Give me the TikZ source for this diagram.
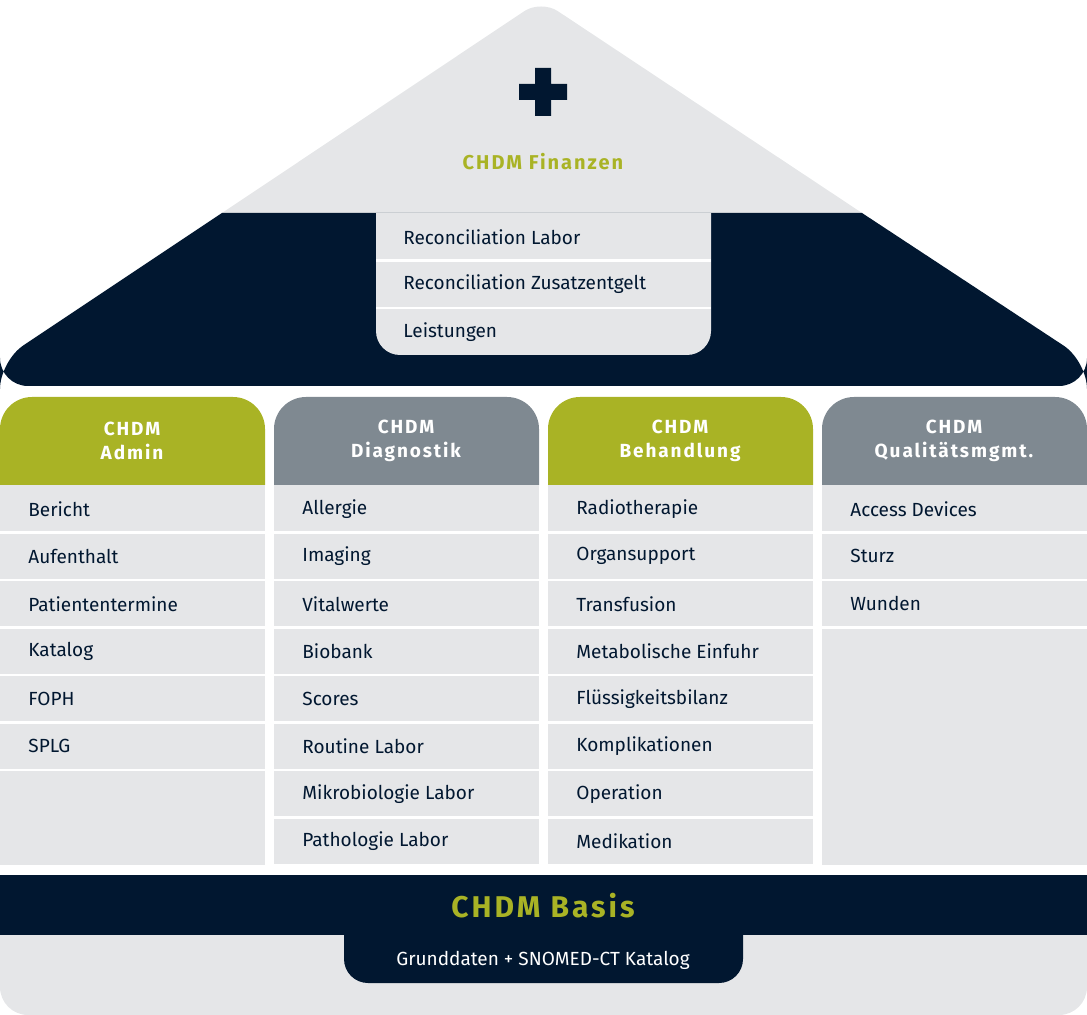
\documentclass[tikz,border=0pt]{standalone}
\usepackage{fontspec}
\setmainfont{Fira Sans}
\newfontfamily\headfont[LetterSpace=10]{Fira Sans}
\definecolor{chnavy}{HTML}{011730}
\definecolor{chgreen}{HTML}{A9B325}
\definecolor{chgray}{HTML}{7F8991}
\definecolor{chlight}{HTML}{E5E6E8}
\tikzset{
  item/.style={anchor=west,font=\fontsize{9.5}{11}\selectfont,text=chnavy,inner sep=0pt},
  head/.style={align=center,font=\headfont\bfseries\fontsize{9.5}{12}\selectfont,text=white},
  sep/.style={draw=white,line width=1.2pt}
}
\begin{document}
\begin{tikzpicture}[x=0.5pt,y=-0.5pt]
  \useasboundingbox (0,0) rectangle (1087,1015);
  % roof
  \fill[chlight] (222,213) [rounded corners=10]-- (541,0) [sharp corners]-- (862,213) -- cycle;
  \fill[chnavy] (222,213) [rounded corners=14]-- (0,361) -- (0,386) -- (1087,386) -- (1087,361) [sharp corners]-- (862,213) -- cycle;
  \fill[chnavy] (519,84) rectangle (567,100) (535,68) rectangle (551,116);
  \node[font=\headfont\bfseries\fontsize{10}{12}\selectfont,text=chgreen] (fin) at (543,162) {CHDM Finanzen};
  \fill[chlight] (376,213) [rounded corners=12]-- (376,355) -- (711,355) [sharp corners]-- (711,213) -- cycle;
  \foreach[count=\r,evaluate={213+47.5*\r-23.75} as \y] \t in {Reconciliation Labor,Reconciliation Zusatzentgelt,Leistungen} {
    \node[item] (fin\r) at (403,\y) {\t};
  }
  \draw[sep] (376,260.5) -- (711,260.5) (376,308) -- (711,308);

  % columns
  \foreach[count=\c] \cx/\col/\title/\items in {
      0/chgreen/{CHDM\\Admin}/{Bericht,Aufenthalt,Patiententermine,Katalog,FOPH,SPLG},
      274/chgray/{CHDM\\Diagnostik}/{Allergie,Imaging,Vitalwerte,Biobank,Scores,Routine Labor,Mikrobiologie Labor,Pathologie Labor},
      548/chgreen/{CHDM\\Behandlung}/{Radiotherapie,Organsupport,Transfusion,Metabolische Einfuhr,Flüssigkeitsbilanz,Komplikationen,Operation,Medikation},
      822/chgray/{CHDM\\Qualitätsmgmt.}/{Access Devices,Sturz,Wunden}} {
    \fill[\col] (\cx,485) [rounded corners=16]-- (\cx,397) -- (\cx+265,397) [sharp corners]-- (\cx+265,485) -- cycle;
    \node[head] (head\c) at (\cx+132,441) {\title};
    \fill[chlight] (\cx,485) rectangle (\cx+265,865);
    \foreach[count=\r,evaluate={485+47.5*\r} as \y] \t in \items {
      \node[item] (c\c-\r) at (\cx+28,\y-23.75) {\t};
      \draw[sep] (\cx,\y) -- (\cx+265,\y);
    }
  }

  % basis
  \fill[chnavy] (0,875) rectangle (1087,935);
  \fill[chlight] (0,935) [rounded corners=14]-- (0,1015) -- (1087,1015) [sharp corners]-- (1087,935) -- cycle;
  \node[font=\headfont\bfseries\fontsize{15}{18}\selectfont,text=chgreen] (basis) at (543,906) {CHDM Basis};
  \fill[chnavy] (344,935) [rounded corners=12]-- (344,983) -- (743,983) [sharp corners]-- (743,935) -- cycle;
  \node[font=\fontsize{9.5}{11}\selectfont,text=white] (kat) at (543,960) {Grunddaten + SNOMED-CT Katalog};
\end{tikzpicture}
\end{document}
